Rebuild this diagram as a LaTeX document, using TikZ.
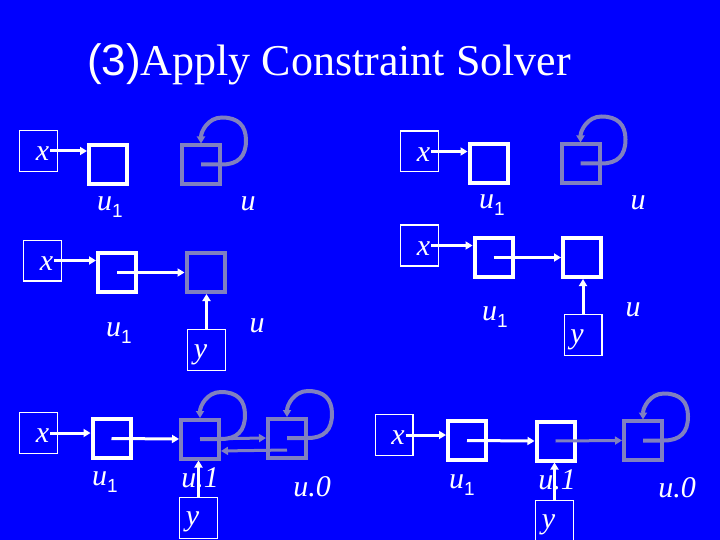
\documentclass[tikz,border=0pt]{standalone}
\usepackage{fontspec}
\setmainfont{Liberation Serif}
\setsansfont{Liberation Sans}
\usetikzlibrary{arrows.meta}
\definecolor{slideblue}{RGB}{0,0,255}
\definecolor{cellgray}{RGB}{128,128,192}
\newcommand{\uone}{u\raisebox{-7pt}{\upshape\sffamily\fontsize{19}{19}\selectfont 1}}
\newcommand{\selfloop}[1]{\draw[loopline] (#1.center) -- (#1.east) .. controls +(16,0) and +(0,16) .. ++(24,-24) .. controls +(0,-15) and +(16,0) .. ++(-24,-23) .. controls +(-14,0) and +(0,-12) .. ++(-21,26);}

\begin{document}
\begin{tikzpicture}[
    x=1pt, y=-1pt,
    varbox/.style={draw=white, line width=1.3pt, minimum width=37.7pt, minimum height=40.7pt, inner sep=0pt},
    cell/.style={draw=white, line width=4pt, minimum width=38pt, minimum height=39pt, inner sep=0pt},
    graycell/.style={cell, draw=cellgray},
    lbl/.style={text=white, inner sep=0pt, font=\fontsize{30}{30}\selectfont\itshape},
    arr/.style={white, line width=3pt, -{Triangle[length=7pt,width=8pt]}},
    grayarr/.style={arr, cellgray},
    loopline/.style={cellgray, line width=4pt, -{Triangle[length=7pt,width=8pt]}}]
    % BACKGROUND
    \fill[slideblue] (0,0) rectangle (720,540);
    \useasboundingbox (0,0) rectangle (720,540);
    % title
    \node[text=white, font=\fontsize{44}{44}\selectfont] (title) at (329,64) {{\sffamily (3)}Apply Constraint Solver};

    % STAGE 1 (top left)
    \node[varbox, label={[lbl,xshift=4pt,yshift=-3pt]center:x}] (xA) at (38.5,151) {};
    \node[cell] (uA1) at (108,164.5) {};
    \node[graycell] (uA) at (201,164.5) {};
    \node[lbl] (labA1) at (110,207) {\uone};
    \node[lbl] (labA) at (248,204) {u};
    \draw[arr] ([xshift=-8pt]xA.east) -- (uA1.west |- xA.east);
    \selfloop{uA}

    % STAGE 2 (top right)
    \node[varbox, label={[lbl,xshift=4pt,yshift=-3pt]center:x}] (xB) at (419.5,151.5) {};
    \node[cell] (uB1) at (488.5,163.5) {};
    \node[graycell] (uB) at (580.5,163.5) {};
    \node[lbl] (labB1) at (492,205) {\uone};
    \node[lbl] (labB) at (638,203) {u};
    \draw[arr] ([xshift=-8pt]xB.east) -- (uB1.west |- xB.east);
    \selfloop{uB}

    % STAGE 3 (middle left)
    \node[varbox, label={[lbl,xshift=4pt,yshift=-3pt]center:x}] (xC) at (42.5,260.5) {};
    \node[cell] (uC1) at (117,272.5) {};
    \node[graycell] (uC) at (205.5,272.5) {};
    \node[varbox, label={[lbl,xshift=-6pt,yshift=-5pt]center:y}] (yC) at (206.5,350) {};
    \node[lbl] (labC1) at (119,333) {\uone};
    \node[lbl] (labC) at (257,326) {u};
    \draw[arr] ([xshift=-8pt]xC.east) -- (uC1.west |- xC.east);
    \draw[arr] (uC1.center) -- (uC.west);
    \draw[arr] (yC.north) -- (yC.north |- uC.south);

    % STAGE 4 (middle right)
    \node[varbox, label={[lbl,xshift=4pt,yshift=-3pt]center:x}] (xD) at (419.5,245.5) {};
    \node[cell] (uD1) at (493.5,257.5) {};
    \node[cell] (uD) at (582,257.5) {};
    \node[varbox, label={[lbl,xshift=-6pt,yshift=-5pt]center:y}] (yD) at (583,335) {};
    \node[lbl] (labD1) at (495,317) {\uone};
    \node[lbl] (labD) at (633,310) {u};
    \draw[arr] ([xshift=-8pt]xD.east) -- (uD1.west |- xD.east);
    \draw[arr] (uD1.center) -- (uD.west);
    \draw[arr] (yD.north) -- (yD.north |- uD.south);

    % STAGE 5 (bottom left)
    \node[varbox, label={[lbl,xshift=4pt,yshift=-3pt]center:x}] (xE) at (38.5,433) {};
    \node[cell] (uE1) at (111.5,438.5) {};
    \node[graycell] (uE11) at (200,439) {};
    \node[graycell] (uE0) at (287,438) {};
    \node[varbox, label={[lbl,xshift=-6pt,yshift=-4pt]center:y}] (yE) at (198.5,518) {};
    \node[lbl] (labE1) at (105,482) {\uone};
    \node[lbl] (labE11) at (200,478) {u.1};
    \node[lbl] (labE0) at (312,487) {u.0};
    \draw[arr] ([xshift=-8pt]xE.east) -- (uE1.west |- xE.east);
    \draw[arr] (uE1.center) -- (uE11.west);
    \draw[grayarr] (uE11.center) -- (uE0.west);
    \draw[grayarr] ([yshift=-12pt]uE0.center) -- ([yshift=-12pt]uE11.east);
    \draw[arr] (yE.north) -- (yE.north |- uE11.south);
    \selfloop{uE11}
    \selfloop{uE0}

    % STAGE 6 (bottom right)
    \node[varbox, label={[lbl,xshift=4pt,yshift=-3pt]center:x}] (xF) at (394,435) {};
    \node[cell] (uF1) at (467,440.5) {};
    \node[cell] (uF11) at (555.5,441) {};
    \node[graycell] (uF0) at (643,440.5) {};
    \node[varbox, label={[lbl,xshift=-6pt,yshift=-4pt]center:y}] (yF) at (554.5,520.5) {};
    \node[lbl] (labF1) at (462,485) {\uone};
    \node[lbl] (labF11) at (557,480) {u.1};
    \node[lbl] (labF0) at (677,488) {u.0};
    \draw[arr] ([xshift=-8pt]xF.east) -- (uF1.west |- xF.east);
    \draw[arr] (uF1.center) -- (uF11.west);
    \draw[grayarr] (uF11.center) -- (uF0.west);
    \draw[arr] (yF.north) -- (yF.north |- uF11.south);
    \selfloop{uF0}
\end{tikzpicture}
\end{document}
